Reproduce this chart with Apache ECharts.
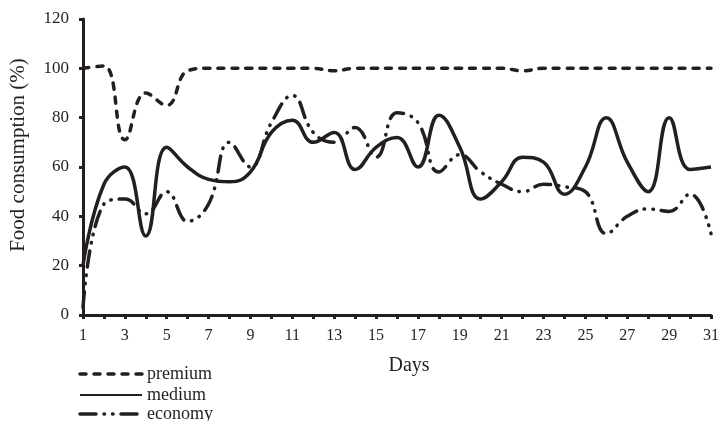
<!DOCTYPE html>
<html><head><meta charset="utf-8">
<script src="https://cdn.jsdelivr.net/npm/echarts@6/dist/echarts.min.js"></script>
<style>html,body{margin:0;padding:0;background:#fff}#c{width:720px;height:421px}</style>
</head><body><div id="c"></div>
<script>
const days = Array.from({length: 31}, (_, i) => String(i + 1));
const premium = [100,101,71,90,85,99,100,100,100,100,100,100,99,100,100,100,100,100,100,100,100,99,100,100,100,100,100,100,100,100,100];
const medium  = [20,53,60,32,68,60,55,54,58,74,79,70,74,59,68,72,60,81,68,47,54,64,62,49,60,80,62,50,80,59,60];
const economy = [3,45,47,41,50,38,45,70,60,78,89,74,70,76,64,82,78,58,65,58,53,50,53,52,50,33,40,43,42,49,33];
const yTicks = [0,20,40,60,80,100,120];
const seriesNames = ['premium','medium','economy'];

const ink = '#231f20';
const font = 'Liberation Serif';
const dashP = [6, 8], dashE = [16, 8, 0.5, 8, 0.5, 8];
const chart = echarts.init(document.getElementById('c'), null, {renderer: 'canvas'});
function ser(name, data, type, cap) {
  return {name, type: 'line', data, smooth: 0.45, symbol: 'none',
    lineStyle: {color: ink, width: 3.5, type, cap: cap || 'butt'},
    itemStyle: {color: ink}};
}
const legendRows = [
  {name: seriesNames[0], dash: dashP, cap: 'round', y: 374},
  {name: seriesNames[1], dash: null, cap: 'butt', y: 395},
  {name: seriesNames[2], dash: dashE, cap: 'round', y: 414}
];
const graphics = [];
legendRows.forEach(r => {
  graphics.push({type: 'line', shape: {x1: 80, y1: r.y, x2: 142, y2: r.y},
    style: {stroke: ink, lineWidth: r.dash ? 3.5 : 2, lineDash: r.dash, lineCap: r.cap}});
  graphics.push({type: 'text', x: 147, y: r.y, style: {text: r.name, font: '18px "Liberation Serif"', fill: ink, textVerticalAlign: 'middle', textAlign: 'left'}});
});
graphics.push({type: 'text', x: 18, y: 155, rotation: Math.PI / 2,
  style: {text: 'Food consumption (%)', font: '21px "Liberation Serif"', fill: ink, textAlign: 'center', textVerticalAlign: 'middle'}});
graphics.push({type: 'text', x: 409, y: 366,
  style: {text: 'Days', font: '20px "Liberation Serif"', fill: ink, textAlign: 'center', textVerticalAlign: 'middle'}});

chart.setOption({
  animation: false,
  grid: {left: 83, right: 9, top: 19, bottom: 106, containLabel: false, outerBoundsMode: 'none'},
  xAxis: {type: 'category', data: days, boundaryGap: false,
    axisLine: {lineStyle: {color: ink, width: 3}},
    axisTick: {interval: 0, length: 4, lineStyle: {color: ink, width: 3}},
    axisLabel: {interval: 1, fontFamily: font, fontSize: 16, color: ink, margin: 13},
    splitLine: {show: false}},
  yAxis: {type: 'value', min: yTicks[0], max: yTicks[yTicks.length-1], interval: 20,
    axisLine: {show: true, lineStyle: {color: ink, width: 3}},
    axisTick: {show: true, length: 4, lineStyle: {color: ink, width: 3}},
    axisLabel: {fontFamily: font, fontSize: 17, color: ink, margin: 14},
    splitLine: {show: false}},
  graphic: graphics,
  series: [
    ser(seriesNames[0], premium, dashP, 'round'),
    ser(seriesNames[1], medium, 'solid'),
    ser(seriesNames[2], economy, dashE, 'round')
  ]
});
</script></body></html>
